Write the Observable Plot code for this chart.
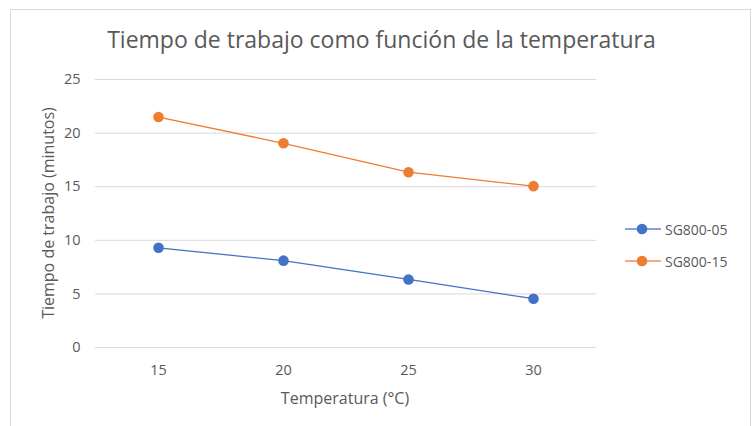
<!DOCTYPE html>
<html>
<head>
<meta charset="utf-8">
<script src="https://cdn.jsdelivr.net/npm/d3@7"></script>
<script src="https://cdn.jsdelivr.net/npm/@observablehq/plot@0.6"></script>
<style>
  html, body { margin: 0; padding: 0; background: #fff; overflow: hidden; }
  #wrap { position: relative; width: 753px; height: 426px; font-family: "Open Sans", sans-serif; color: #595959; overflow: hidden; }
  #frame { position: absolute; left: 10px; top: 9px; width: 741px; height: 430px; border: 1px solid #d9d9d9; box-sizing: border-box; }
  #title { position: absolute; left: 0; width: 763px; top: 28px; text-align: center; font-size: 23px; line-height: 1; white-space: nowrap; }
  #xtitle { position: absolute; left: 195px; width: 300px; top: 390px; text-align: center; font-size: 16px; line-height: 1; white-space: nowrap; }
  #ytitle { position: absolute; left: -102px; width: 300px; top: 204px; text-align: center; font-size: 16px; line-height: 18px; white-space: nowrap; transform: rotate(-90deg); transform-origin: 150px 9px; }
  #chart { position: absolute; left: 0; top: 0; }
  #legend { position: absolute; left: 624px; top: 213px; font-size: 14px; color: #595959; }
  .item { display: flex; align-items: center; height: 32px; }
  .item svg { margin-right: 3px; }
</style>
</head>
<body>
<div id="wrap">
  <div id="frame"></div>
  <div id="chart"></div>
  <div id="title">Tiempo de trabajo como función de la temperatura</div>
  <div id="xtitle">Temperatura (°C)</div>
  <div id="ytitle">Tiempo de trabajo (minutos)</div>
  <div id="legend"></div>
</div>
<script>
const temperatures = ["15", "20", "25", "30"];
const seriesNames = ["SG800-05", "SG800-15"];
const sg80005 = [9.3, 8.1, 6.35, 4.55];
const sg80015 = [21.5, 19.05, 16.35, 15.05];
const yTicks = [0, 5, 10, 15, 20, 25];
const colors = ["#4472C4", "#ED7D31"];

const data = [];
temperatures.forEach((t, i) => {
  data.push({temp: t, value: sg80005[i], series: seriesNames[0]});
  data.push({temp: t, value: sg80015[i], series: seriesNames[1]});
});

const plot = Plot.plot({
  width: 753,
  height: 426,
  marginLeft: 95,
  marginRight: 157,
  marginTop: 79,
  marginBottom: 79,
  style: {fontFamily: "Open Sans, sans-serif", fontSize: "14px", color: "#595959", background: "transparent"},
  x: {type: "point", domain: temperatures, padding: 0.5, label: null},
  y: {domain: [0, 25], ticks: yTicks, label: null},
  color: {domain: seriesNames, range: colors},
  marks: [
    Plot.ruleY(yTicks, {stroke: "#d9d9d9", strokeWidth: 1}),
    Plot.axisY({ticks: yTicks, tickSize: 0, tickPadding: 15, label: null, fill: "#595959", fontSize: 14.5}),
    Plot.axisX({tickSize: 0, tickPadding: 17, label: null, fill: "#595959", fontSize: 14.5}),
    Plot.line(data, {x: "temp", y: "value", z: "series", stroke: "series", strokeWidth: 1.3}),
    Plot.dot(data, {x: "temp", y: "value", fill: "series", r: 5.3, stroke: "none"})
  ]
});
document.getElementById("chart").appendChild(plot);

const legend = document.getElementById("legend");
seriesNames.forEach((name, i) => {
  const div = document.createElement("div");
  div.className = "item";
  div.innerHTML = `<svg width="38" height="14"><line x1="1" x2="37" y1="7" y2="7" stroke="${colors[i]}" stroke-width="1.3" opacity="0.85"/><circle cx="18" cy="7" r="5.3" fill="${colors[i]}"/></svg><span>${name}</span>`;
  legend.appendChild(div);
});
</script>
</body>
</html>
